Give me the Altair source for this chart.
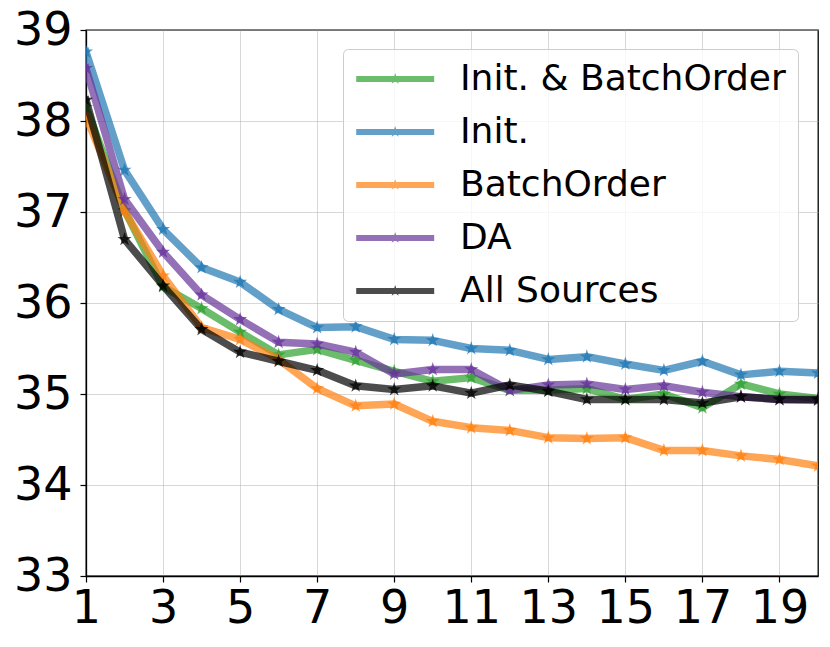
import altair as alt
import pandas as pd

epochs = list(range(1, 21))
series_names = ["Init. & BatchOrder", "Init.", "BatchOrder", "DA", "All Sources"]
series_colors = ["#2ca02c", "#1f77b4", "#ff7f0e", "#663399", "#000000"]

init_batchorder = [38.15, 37.02, 36.18, 35.94, 35.68, 35.43, 35.49, 35.37, 35.25, 35.14,
                   35.18, 35.04, 35.04, 35.06, 34.94, 35.00, 34.85, 35.11, 35.00, 34.95]
init_only = [38.76, 37.46, 36.81, 36.39, 36.23, 35.93, 35.73, 35.74, 35.60, 35.59,
             35.50, 35.48, 35.38, 35.41, 35.33, 35.26, 35.36, 35.21, 35.25, 35.23]
batchorder = [38.05, 37.01, 36.30, 35.73, 35.60, 35.38, 35.06, 34.87, 34.89, 34.70,
              34.63, 34.60, 34.52, 34.51, 34.52, 34.38, 34.38, 34.32, 34.28, 34.21]
da = [38.58, 37.14, 36.56, 36.09, 35.82, 35.57, 35.55, 35.46, 35.22, 35.27,
      35.27, 35.04, 35.10, 35.11, 35.05, 35.09, 35.02, 34.97, 34.94, 34.93]
all_sources = [38.23, 36.70, 36.19, 35.71, 35.46, 35.36, 35.26, 35.09, 35.05, 35.09,
               35.01, 35.10, 35.03, 34.94, 34.94, 34.94, 34.90, 34.97, 34.94, 34.94]

x_ticks = [1, 3, 5, 7, 9, 11, 13, 15, 17, 19]
y_ticks = [33, 34, 35, 36, 37, 38, 39]

values = [init_batchorder, init_only, batchorder, da, all_sources]
rows = []
for name, vals in zip(series_names, values):
    for e, v in zip(epochs, vals):
        rows.append({"series": name, "epoch": e, "value": v})
df = pd.DataFrame(rows)

STAR = ("M0,-1L0.2245,-0.309L0.951,-0.309L0.363,0.118L0.588,0.809L0,0.382"
        "L-0.588,0.809L-0.363,0.118L-0.951,-0.309L-0.2245,-0.309Z")
# legend symbol: thick line segment with a star in its middle (shifted left)
LEGEND_SYM = ("M-2.8,-0.5H10.2V0.5H-2.8Z M3.7,-1L3.9245,-0.309L4.651,-0.309L4.063,0.118"
              "L4.288,0.809L3.7,0.382L3.112,0.809L3.337,0.118L2.749,-0.309L3.4755,-0.309Z")

FONT = "DejaVu Sans"

x_enc = alt.X("epoch:Q",
              scale=alt.Scale(domain=[1, 20], nice=False, zero=False),
              axis=alt.Axis(values=x_ticks, title=None, labelFontSize=46, labelFont=FONT,
                            labelColor="black", tickSize=6, tickColor="black", tickWidth=1.2,
                            labelPadding=4, domainColor="black", domainWidth=1.3,
                            gridColor="#b0b0b0", gridOpacity=0.5, gridWidth=1,
                            labelFlush=False, labelOverlap=False))
y_enc = alt.Y("value:Q",
              scale=alt.Scale(domain=[33, 39], nice=False, zero=False),
              axis=alt.Axis(values=y_ticks, title=None, labelFontSize=46, labelFont=FONT,
                            labelColor="black", tickSize=6, tickColor="black", tickWidth=1.2,
                            labelPadding=8, domainColor="black", domainWidth=1.3,
                            gridColor="#b0b0b0", gridOpacity=0.5, gridWidth=1,
                            labelFlush=False, labelOverlap=False, format="d"))

legend = alt.Legend(orient="none", legendX=257, legendY=19, title=None,
                    symbolType=LEGEND_SYM, symbolSize=144, symbolOpacity=0.7,
                    symbolStrokeWidth=0, labelFontSize=36, labelFont=FONT,
                    labelColor="black", labelOffset=69, labelLimit=600,
                    rowPadding=17, padding=12, fillColor="rgba(255,255,255,0.8)",
                    strokeColor="#cccccc", cornerRadius=5)

color_scale = alt.Scale(domain=series_names, range=series_colors)

base = alt.Chart(df).encode(x=x_enc, y=y_enc)

layers = []
for name, col in zip(series_names, series_colors):
    sub = base.transform_filter(alt.datum.series == name)
    line = sub.mark_line(strokeWidth=7.5, opacity=0.7, clip=True,
                         strokeJoin="round", strokeCap="square").encode(
        stroke=alt.value(col))
    pts = sub.mark_point(shape=STAR, filled=True, size=220, opacity=0.75,
                         strokeWidth=0, clip=True).encode(
        color=alt.Color("series:N", scale=color_scale, legend=legend))
    layers += [line, pts]

chart = alt.layer(*layers).properties(
    width=732, height=546,
    autosize=alt.AutoSizeParams(type="none"),
    padding={"left": 78, "top": 22, "right": 4, "bottom": 60},
    background="white",
).configure_view(stroke="black", strokeWidth=1.3)

chart.save("out.html", embed_options={"renderer": "svg", "actions": False})
